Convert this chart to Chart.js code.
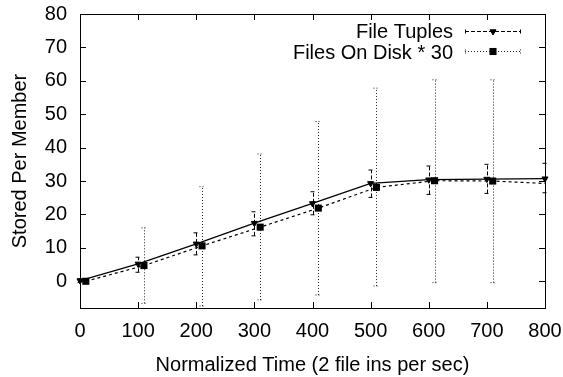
<!DOCTYPE html>
<html>
<head>
<meta charset="utf-8">
<script src="https://cdn.jsdelivr.net/npm/chart.js@4"></script>
<style>
  html, body { margin: 0; padding: 0; background: #fff; }
</style>
</head>
<body>
<canvas id="line-chart" width="563" height="377"></canvas>
<script>
// data
const seriesNames = ["File Tuples", "Files On Disk * 30"]
const xTuples = [0, 100, 200, 300, 400, 500, 600, 700, 800]
const tuples = [0.2, 5.2, 11.2, 17.4, 23.3, 29.3, 30.4, 30.6, 30.7]
const tuplesLow = [-0.3, 2.7, 7.9, 13.6, 19.9, 25.1, 26.0, 26.3, 26.5]
const tuplesHigh = [0.7, 7.2, 14.5, 20.8, 26.8, 33.3, 34.5, 35.0, 35.3]
const xDisk = [10, 110, 210, 310, 410, 510, 610, 710, 810]
const disk = [0, 4.7, 10.6, 16.2, 21.9, 28.1, 30.1, 30.0, 29.2]
const diskLow = [-0.3, -6.6, -7.4, -5.6, -4.1, -1.4, -0.4, -0.4, -0.4]
const diskHigh = [0.3, 16.0, 28.3, 38.1, 47.8, 57.8, 60.3, 60.3, 60.3]
const xTicks = [0, 100, 200, 300, 400, 500, 600, 700, 800]
const yTicks = [0, 10, 20, 30, 40, 50, 60, 70, 80]

const FONT = "'Liberation Sans', Arial, sans-serif"
Chart.defaults.color = "#000"
Chart.defaults.font.family = FONT
Chart.defaults.font.size = 20

function drawBars(ctx, x, y, xs, lo, hi, dash, color) {
  ctx.strokeStyle = color
  ctx.lineWidth = 1
  ctx.setLineDash(dash)
  xs.forEach((v, i) => {
    const px = Math.round(x.getPixelForValue(v)) + 0.5
    const top = y.getPixelForValue(hi[i])
    const bot = y.getPixelForValue(lo[i])
    ctx.beginPath()
    ctx.moveTo(px, bot); ctx.lineTo(px, top)
    ctx.moveTo(px - 3, top); ctx.lineTo(px + 3, top)
    ctx.moveTo(px - 3, bot); ctx.lineTo(px + 3, bot)
    ctx.stroke()
  })
  ctx.setLineDash([])
}

function clipTo(ctx, a, extra) {
  ctx.beginPath()
  ctx.rect(a.left - extra, a.top, a.right - a.left + 2 * extra, a.bottom - a.top)
  ctx.clip()
}

const errorBars = {
  id: "errorBars",
  beforeDatasetsDraw(chart) {
    const { ctx, chartArea: a, scales: { x, y } } = chart
    ctx.save()
    clipTo(ctx, a, 0)
    drawBars(ctx, x, y, xDisk, diskLow, diskHigh, [1, 2], "#222")
    ctx.restore()
    ctx.save()
    clipTo(ctx, a, 4)
    drawBars(ctx, x, y, xTuples, tuplesLow, tuplesHigh, [4, 2], "#000")
    ctx.restore()
  },
  afterDraw(chart) {
    const { ctx, chartArea: a, scales: { x, y } } = chart
    ctx.save()
    // frame + inward ticks, gnuplot style
    ctx.strokeStyle = "#000"
    ctx.lineWidth = 1
    ctx.strokeRect(Math.round(a.left) + 0.5, Math.round(a.top) + 0.5, Math.round(a.right - a.left), Math.round(a.bottom - a.top))
    ctx.beginPath()
    xTicks.forEach(v => {
      const px = Math.round(x.getPixelForValue(v)) + 0.5
      ctx.moveTo(px, a.bottom); ctx.lineTo(px, a.bottom - 6)
      ctx.moveTo(px, a.top); ctx.lineTo(px, a.top + 6)
    })
    yTicks.forEach(v => {
      const py = Math.round(y.getPixelForValue(v)) + 0.5
      ctx.moveTo(a.left, py); ctx.lineTo(a.left + 6, py)
      ctx.moveTo(a.right, py); ctx.lineTo(a.right - 6, py)
    })
    ctx.stroke()

    // key, top right
    ctx.font = "20px " + FONT
    ctx.fillStyle = "#000"
    ctx.textAlign = "right"
    ctx.textBaseline = "alphabetic"
    ctx.fillText(seriesNames[0], 453, 38)
    ctx.fillText(seriesNames[1], 453, 59)

    const sx0 = 465, sx1 = 521, sm = 493
    ctx.setLineDash([4, 2])
    ctx.beginPath()
    ctx.moveTo(sx0, 31.5); ctx.lineTo(sx1, 31.5)
    ctx.moveTo(sx0 + 0.5, 29.5); ctx.lineTo(sx0 + 0.5, 33.5)
    ctx.moveTo(sx1 - 0.5, 29.5); ctx.lineTo(sx1 - 0.5, 33.5)
    ctx.stroke()
    ctx.setLineDash([1, 2])
    ctx.strokeStyle = "#222"
    ctx.beginPath()
    ctx.moveTo(sx0, 51.5); ctx.lineTo(sx1, 51.5)
    ctx.moveTo(sx0 + 0.5, 49.5); ctx.lineTo(sx0 + 0.5, 53.5)
    ctx.moveTo(sx1 - 0.5, 49.5); ctx.lineTo(sx1 - 0.5, 53.5)
    ctx.stroke()
    ctx.setLineDash([])
    ctx.strokeStyle = "#000"
    Chart.helpers.drawPoint(ctx, { pointStyle: "triangle", rotation: 180, radius: 3.5, borderWidth: 1 }, sm, 31.5)
    Chart.helpers.drawPoint(ctx, { pointStyle: "rect", rotation: 0, radius: 5, borderWidth: 0 }, sm, 51.5)
    ctx.restore()
  },
}

const ctx = document.getElementById("line-chart")

const lineChart = new Chart(ctx, {
  type: "line",
  data: {
    datasets: [
      {
        label: seriesNames[0],
        data: xTuples.map((v, i) => ({ x: v, y: tuples[i] })),
        borderColor: "#000",
        backgroundColor: "#000",
        borderWidth: 1.2,
        pointStyle: "triangle",
        pointRotation: 180,
        pointRadius: 3.5,
        pointBorderWidth: 1,
        tension: 0,
        clip: 6,
        order: 2,
      },
      {
        label: seriesNames[1],
        data: xDisk.map((v, i) => ({ x: v, y: disk[i] })),
        borderColor: "#000",
        backgroundColor: "#000",
        borderWidth: 1.2,
        borderDash: [3, 3],
        pointStyle: "rect",
        pointRadius: 5,
        pointBorderWidth: 0,
        tension: 0,
        clip: 0,
        order: 1,
      },
    ],
  },
  options: {
    responsive: false,
    animation: false,
    events: [],
    layout: { padding: { left: 0, top: 14, right: 18, bottom: 0 } },
    plugins: { legend: { display: false }, tooltip: { enabled: false } },
    scales: {
      x: {
        type: "linear",
        min: 0,
        max: 800,
        afterBuildTicks: s => { s.ticks = xTicks.map(v => ({ value: v })) },
        afterFit: s => { s.height = 69; s.paddingLeft = 0; s.paddingRight = 0 },
        grid: { display: false, drawTicks: false },
        border: { display: false },
        ticks: { padding: 11, maxRotation: 0, autoSkip: false },
        title: { display: true, text: "Normalized Time (2 file ins per sec)", padding: { top: 0, bottom: 0 } },
      },
      y: {
        type: "linear",
        min: -8,
        max: 80,
        afterBuildTicks: s => { s.ticks = yTicks.map(v => ({ value: v })) },
        afterFit: s => { s.width = 80; s.paddingTop = 0; s.paddingBottom = 0 },
        grid: { display: false, drawTicks: false },
        border: { display: false },
        ticks: { padding: 13, autoSkip: false },
        title: { display: true, text: "Stored Per Member", padding: { top: 8, bottom: 0 } },
      },
    },
  },
  plugins: [errorBars],
})
</script>
</body>
</html>
